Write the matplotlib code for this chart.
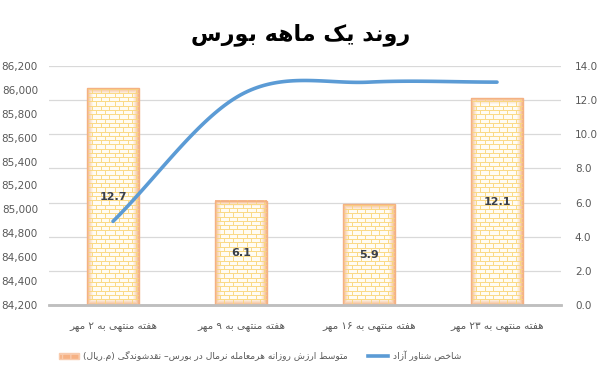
import re
import numpy as np
import matplotlib
matplotlib.use('Agg')
import matplotlib.pyplot as plt
from matplotlib.patches import Patch
from matplotlib.lines import Line2D

# ---------------------------------------------------------------------------
# data
weeks = ['هفته منتهی به ۲ مهر', 'هفته منتهی به ۹ مهر',
         'هفته منتهی به ۱۶ مهر', 'هفته منتهی به ۲۳ مهر']
trade_value = [12.7, 6.1, 5.9, 12.1]              # right axis (bars)
free_float_index = [84900, 85960, 86065, 86065]   # left axis (line)

title = 'روند یک ماهه بورس'
bar_label = 'متوسط ارزش روزانه هرمعامله نرمال در بورس– نقدشوندگی (م.ریال)'
line_label = 'شاخص شناور آزاد'

left_ticks = np.arange(84200, 86201, 200)
right_ticks = np.arange(0, 14.01, 2)

# ---------------------------------------------------------------------------
# tiny persian shaper (matplotlib has no bidi / joining)
FORMS = {
    'ا': ('\uFE8D', '\uFE8E'), 'آ': ('\uFE81', '\uFE82'),
    'د': ('\uFEA9', '\uFEAA'), 'ذ': ('\uFEAB', '\uFEAC'),
    'ر': ('\uFEAD', '\uFEAE'), 'ز': ('\uFEAF', '\uFEB0'),
    'ژ': ('\uFB8A', '\uFB8B'), 'و': ('\uFEED', '\uFEEE'),
    'ب': ('\uFE8F', '\uFE90', '\uFE91', '\uFE92'),
    'پ': ('\uFB56', '\uFB57', '\uFB58', '\uFB59'),
    'ت': ('\uFE95', '\uFE96', '\uFE97', '\uFE98'),
    'ث': ('\uFE99', '\uFE9A', '\uFE9B', '\uFE9C'),
    'ج': ('\uFE9D', '\uFE9E', '\uFE9F', '\uFEA0'),
    'چ': ('\uFB7A', '\uFB7B', '\uFB7C', '\uFB7D'),
    'ح': ('\uFEA1', '\uFEA2', '\uFEA3', '\uFEA4'),
    'خ': ('\uFEA5', '\uFEA6', '\uFEA7', '\uFEA8'),
    'س': ('\uFEB1', '\uFEB2', '\uFEB3', '\uFEB4'),
    'ش': ('\uFEB5', '\uFEB6', '\uFEB7', '\uFEB8'),
    'ص': ('\uFEB9', '\uFEBA', '\uFEBB', '\uFEBC'),
    'ض': ('\uFEBD', '\uFEBE', '\uFEBF', '\uFEC0'),
    'ط': ('\uFEC1', '\uFEC2', '\uFEC3', '\uFEC4'),
    'ظ': ('\uFEC5', '\uFEC6', '\uFEC7', '\uFEC8'),
    'ع': ('\uFEC9', '\uFECA', '\uFECB', '\uFECC'),
    'غ': ('\uFECD', '\uFECE', '\uFECF', '\uFED0'),
    'ف': ('\uFED1', '\uFED2', '\uFED3', '\uFED4'),
    'ق': ('\uFED5', '\uFED6', '\uFED7', '\uFED8'),
    'ک': ('\uFB8E', '\uFB8F', '\uFB90', '\uFB91'),
    'گ': ('\uFB92', '\uFB93', '\uFB94', '\uFB95'),
    'ل': ('\uFEDD', '\uFEDE', '\uFEDF', '\uFEE0'),
    'م': ('\uFEE1', '\uFEE2', '\uFEE3', '\uFEE4'),
    'ن': ('\uFEE5', '\uFEE6', '\uFEE7', '\uFEE8'),
    'ه': ('\uFEE9', '\uFEEA', '\uFEEB', '\uFEEC'),
    'ی': ('\uFBFC', '\uFBFD', '\uFBFE', '\uFBFF'),
}
MIRROR = {'(': ')', ')': '('}


def fa(s):
    out = []
    for i, c in enumerate(s):
        f = FORMS.get(c)
        if f is None:
            out.append(MIRROR.get(c, c))
            continue
        prev = s[i - 1] if i > 0 else ''
        nxt = s[i + 1] if i < len(s) - 1 else ''
        pj = prev in FORMS and len(FORMS[prev]) == 4
        nj = len(f) == 4 and nxt in FORMS
        if pj and nj:
            out.append(f[3])
        elif pj:
            out.append(f[1])
        elif nj:
            out.append(f[2])
        else:
            out.append(f[0])
    vis = ''.join(out)[::-1]
    # digit runs stay left-to-right
    return re.sub(r'[\u06F0-\u06F90-9]{2,}', lambda m: m.group(0)[::-1], vis)


# ---------------------------------------------------------------------------
plt.rcParams['font.family'] = ['DejaVu Sans']
grey = '#595959'

W, H = 601, 373
fig = plt.figure(figsize=(W / 100, H / 100), dpi=100)
ax = fig.add_axes([49 / W, (H - 305) / H, 512 / W, 239 / H])
ax2 = ax.twinx()

x = np.arange(len(weeks))
bw = 0.4

# bars on right-hand scale
ax.set_xlim(-0.5, len(weeks) - 0.5)
ax.set_ylim(0, 14)
ax.set_yticks(right_ticks)
ax.set_yticklabels(['%.1f' % v for v in right_ticks])
ax.yaxis.tick_right()
ax.grid(axis='y', color='#D9D9D9', linewidth=0.9)
ax.set_axisbelow(True)

bars = ax.bar(x, trade_value, width=bw, facecolor='none',
              edgecolor='#F4B183', linewidth=1.0, zorder=3)


def brick_texture(wpx, hpx, row=4.3, brick=8.7):
    img = np.ones((hpx, wpx, 3)) * np.array([1.0, 0.99, 0.96])
    yy, xx = np.mgrid[0:hpx, 0:wpx]
    # soft orange glow on the edges
    d = np.minimum(np.minimum(xx, wpx - 1 - xx), np.minimum(yy, hpx - 1 - yy)).astype(float)
    glow = np.clip(1 - d / 6.0, 0, 1) ** 1.2
    peach = np.array([0.96, 0.72, 0.55])
    img = img * (1 - glow[..., None]) + peach * glow[..., None]
    ry = (hpx - 1 - yy).astype(float)
    rowi = np.floor(ry / row).astype(int)
    hl = (ry % row) < 1.0
    shift = (rowi % 2) * brick / 2
    vl = ((xx + shift) % brick) < 1.0
    line = hl | vl
    brickc = np.array([0.98, 0.84, 0.49])
    img[line] = img[line] * 0.1 + brickc * 0.9
    return img


for b in bars:
    x0, y0 = b.get_x(), b.get_y()
    x1, y1 = x0 + b.get_width(), y0 + b.get_height()
    p0 = ax.transData.transform((x0, y0))
    p1 = ax.transData.transform((x1, y1))
    wpx = max(int(round(p1[0] - p0[0])), 2)
    hpx = max(int(round(p1[1] - p0[1])), 2)
    ax.imshow(brick_texture(wpx, hpx), extent=(x0, x1, y0, y1),
              aspect='auto', interpolation='nearest', zorder=2)

ax.set_xlim(-0.5, len(weeks) - 0.5)
ax.set_ylim(0, 14)

for xi, v in zip(x, trade_value):
    ax.text(xi, v / 2, '%.1f' % v, ha='center', va='center',
            fontsize=8, fontweight='bold', color='#3A3F4A', zorder=5)

ax.set_xticks(x)
ax.set_xticklabels([fa(w) for w in weeks], fontsize=7.5, color=grey)
ax.tick_params(axis='x', length=0, pad=12)
ax.tick_params(axis='y', length=0, labelsize=7.5, labelcolor=grey, pad=10)

# line on left-hand scale (smooth, like excel)
ax2.set_ylim(84200, 86200)
ax2.set_yticks(left_ticks)
ax2.set_yticklabels(['{:,}'.format(v) for v in left_ticks])
ax2.yaxis.tick_left()
ax2.tick_params(axis='y', length=0, labelsize=7.5, labelcolor=grey, pad=8)

px = np.array(x, dtype=float)
py = np.array(free_float_index, dtype=float)
m = np.zeros_like(py)
m[1:-1] = (py[2:] - py[:-2]) / 2
m[0] = (py[1] - py[0])
m[-1] = (py[-1] - py[-2])
xs, ys = [], []
for i in range(len(px) - 1):
    t = np.linspace(0, 1, 40)
    h00 = 2 * t**3 - 3 * t**2 + 1
    h10 = t**3 - 2 * t**2 + t
    h01 = -2 * t**3 + 3 * t**2
    h11 = t**3 - t**2
    xs.append(px[i] + t)
    ys.append(h00 * py[i] + h10 * m[i] + h01 * py[i + 1] + h11 * m[i + 1])
ax2.plot(np.concatenate(xs), np.concatenate(ys), color='#5B9BD5',
         linewidth=2.6, solid_capstyle='round', zorder=4)

for a in (ax, ax2):
    for s in ('top', 'left', 'right'):
        a.spines[s].set_visible(False)
    a.spines['bottom'].set_color('#BFBFBF')
    a.spines['bottom'].set_linewidth(1.8)

fig.text(0.5, 1 - 35 / H, fa(title), ha='center', va='center',
         fontsize=16, fontweight='bold', color='black')

handles = [Patch(facecolor='#F6B183', edgecolor='#F8CBAD', hatch='++'),
           Line2D([0], [0], color='#5B9BD5', linewidth=2.6)]
fig.legend(handles, [fa(bar_label), fa(line_label)], ncol=2, frameon=False,
           loc='center', bbox_to_anchor=(260 / W, 1 - 356 / H),
           fontsize=6.6, labelcolor=grey, handlelength=2.2, columnspacing=2.2,
           handletextpad=0.5)

plt.savefig('out.png', dpi=100)
